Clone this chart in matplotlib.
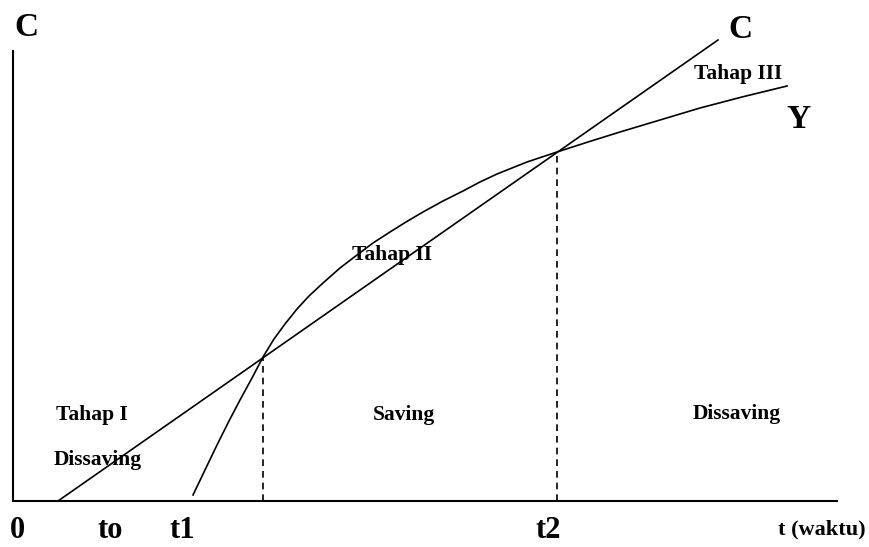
import numpy as np
import matplotlib
matplotlib.use("Agg")
import matplotlib.pyplot as plt

# values (t along the time axis, v up from the t axis)
c_t = [46, 706]
c_v = [0, 461]

y_t = [181, 193, 205, 217, 228, 240, 251, 262, 273, 285, 297, 311, 328, 345,
       361, 378, 394, 411, 431, 451, 468, 485, 515, 545, 576, 608, 648, 688, 730, 775]
y_v = [6, 31, 56, 80, 101, 123, 144, 162, 177, 192, 205, 218, 233, 246,
       258, 269, 279, 289, 300, 310, 319, 327, 339, 349, 359, 369, 381, 393, 404, 415]

# the two crossings of C and Y
cross_t = [251, 545]
cross_v = [144, 349]

tick_labels = ["0", "to", "t1", "t2"]
tick_pos = [5, 98, 170, 536]

region_labels = ["Tahap I", "Dissaving", "Saving", "Dissaving", "Tahap II", "Tahap III"]
region_pos = [(80, 86), (86, 41), (392, 86), (725, 87), (380, 246), (726, 427)]

plt.rcParams['font.family'] = ['Liberation Serif', 'DejaVu Serif']

fig = plt.figure(figsize=(8.69, 5.47), dpi=100)
ax = fig.add_axes([0, 0, 1, 1])
ax.set_xlim(-12, 857)
ax.set_ylim(-46, 501)
ax.axis('off')

# axes frame
ax.plot([1, 1], [0, 451], color='black', lw=1.5, solid_capstyle='butt')
ax.plot([0, 826], [0, 0], color='black', lw=1.5, solid_capstyle='butt')

# C line and Y curve
ax.plot(c_t, c_v, color='black', lw=1.2)
ax.plot(y_t, y_v, color='black', lw=1.2, solid_joinstyle='round')

# dashed drops at the crossings
for t, v in zip(cross_t, cross_v):
    ax.plot([t, t], [0, v], color='black', lw=1.2, ls=(0, (4, 3)))

# axis texts
ax.text(14, 473, "C", fontsize=24, fontweight='bold', ha='center', va='center')
for lab, t in zip(tick_labels, tick_pos):
    ax.text(t, -30, lab, fontsize=22, fontweight='bold', ha='center', va='center')
ax.text(810, -28, "t (waktu)", fontsize=16, fontweight='bold', ha='center', va='center')

# curve names
ax.text(728, 472, "C", fontsize=24, fontweight='bold', ha='center', va='center')
ax.text(786, 381, "Y", fontsize=24, fontweight='bold', ha='center', va='center')

for lab, (t, v) in zip(region_labels, region_pos):
    ax.text(t, v, lab, fontsize=15.5, fontweight='bold', ha='center', va='center')

fig.savefig("out.png", dpi=100)
